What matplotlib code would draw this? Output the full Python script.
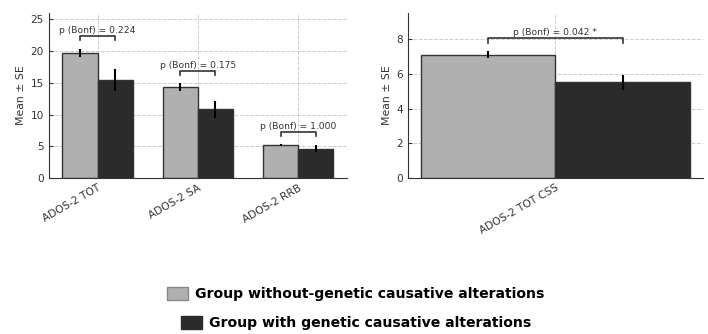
import numpy as np
from matplotlib import pyplot as plt
from matplotlib.patches import Patch

# left panel
measures = ['ADOS-2 TOT', 'ADOS-2 SA', 'ADOS-2 RRB']
mean_without = [19.7, 14.3, 5.15]
se_without = [0.7, 0.6, 0.15]
mean_with = [15.4, 10.8, 4.6]
se_with = [1.75, 1.35, 0.55]
p_labels = ['p (Bonf) = 0.224', 'p (Bonf) = 0.175', 'p (Bonf) = 1.000']

# right panel
css_measure = ['ADOS-2 TOT CSS']
css_without = [7.1]
css_se_without = [0.19]
css_with = [5.5]
css_se_with = [0.46]
css_p = ['p (Bonf) = 0.042 *']

legend_labels = ['Group without-genetic causative alterations',
                 'Group with genetic causative alterations']

light = '#b0b0b0'
dark = '#2b2b2b'
w = 0.35


def draw_panel(ax, names, m1, s1, m2, s2, plabels, gap, drop):
    x = np.arange(len(names))
    ax.bar(x - w / 2, m1, w, color=light, edgecolor='#333333', linewidth=1, zorder=2)
    ax.bar(x + w / 2, m2, w, color=dark, edgecolor='#333333', linewidth=1, zorder=2)
    ax.errorbar(x - w / 2, m1, yerr=s1, fmt='none', ecolor='black', elinewidth=1.5, zorder=3)
    ax.errorbar(x + w / 2, m2, yerr=s2, fmt='none', ecolor='black', elinewidth=1.5, zorder=3)
    for i in range(len(names)):
        top = max(m1[i] + s1[i], m2[i] + s2[i]) + gap
        ax.plot([x[i] - w / 2, x[i] - w / 2, x[i] + w / 2, x[i] + w / 2],
                [top - drop, top, top, top - drop], color='#333333', lw=1.2, zorder=3)
        ax.text(x[i], top + drop * 0.25, plabels[i], ha='center', va='bottom',
                fontsize=6.6, color='#333333')
    ax.set_xticks(x)
    ax.set_xticklabels(names, rotation=30, ha='right', rotation_mode='anchor', color='#333333')
    ax.set_ylabel('Mean ± SE', color='#333333', fontsize=7.8, labelpad=3)
    ax.grid(True, linestyle='--', color='#cccccc', linewidth=0.7, zorder=0)
    ax.set_axisbelow(True)
    for s in ['top', 'right']:
        ax.spines[s].set_visible(False)
    for s in ['left', 'bottom']:
        ax.spines[s].set_color('#333333')
    ax.tick_params(direction='in', length=3, colors='#333333', labelsize=7.6)


fig = plt.figure(figsize=(7.08, 3.34), dpi=100)
ax1 = fig.add_axes([0.069, 0.467, 0.421, 0.494])
ax2 = fig.add_axes([0.576, 0.467, 0.417, 0.494])

draw_panel(ax1, measures, mean_without, se_without, mean_with, se_with, p_labels, 2.0, 0.7)
ax1.set_ylim(0, 26)
ax1.set_yticks([0, 5, 10, 15, 20, 25])

draw_panel(ax2, css_measure, css_without, css_se_without, css_with, css_se_with, css_p, 0.75, 0.27)
ax2.set_ylim(0, 9.5)
ax2.set_yticks([0, 2, 4, 6, 8])

fig.legend(handles=[Patch(facecolor=light, edgecolor='#888888')], labels=[legend_labels[0]],
           loc='center', bbox_to_anchor=(0.503, 0.12), frameon=False,
           prop={'weight': 'bold', 'size': 10.1}, handlelength=1.5, handleheight=1.1,
           handletextpad=0.5)
fig.legend(handles=[Patch(facecolor=dark, edgecolor=dark)], labels=[legend_labels[1]],
           loc='center', bbox_to_anchor=(0.503, 0.033), frameon=False,
           prop={'weight': 'bold', 'size': 10.1}, handlelength=1.5, handleheight=1.1,
           handletextpad=0.5)

fig.savefig('out.png', dpi=100)
